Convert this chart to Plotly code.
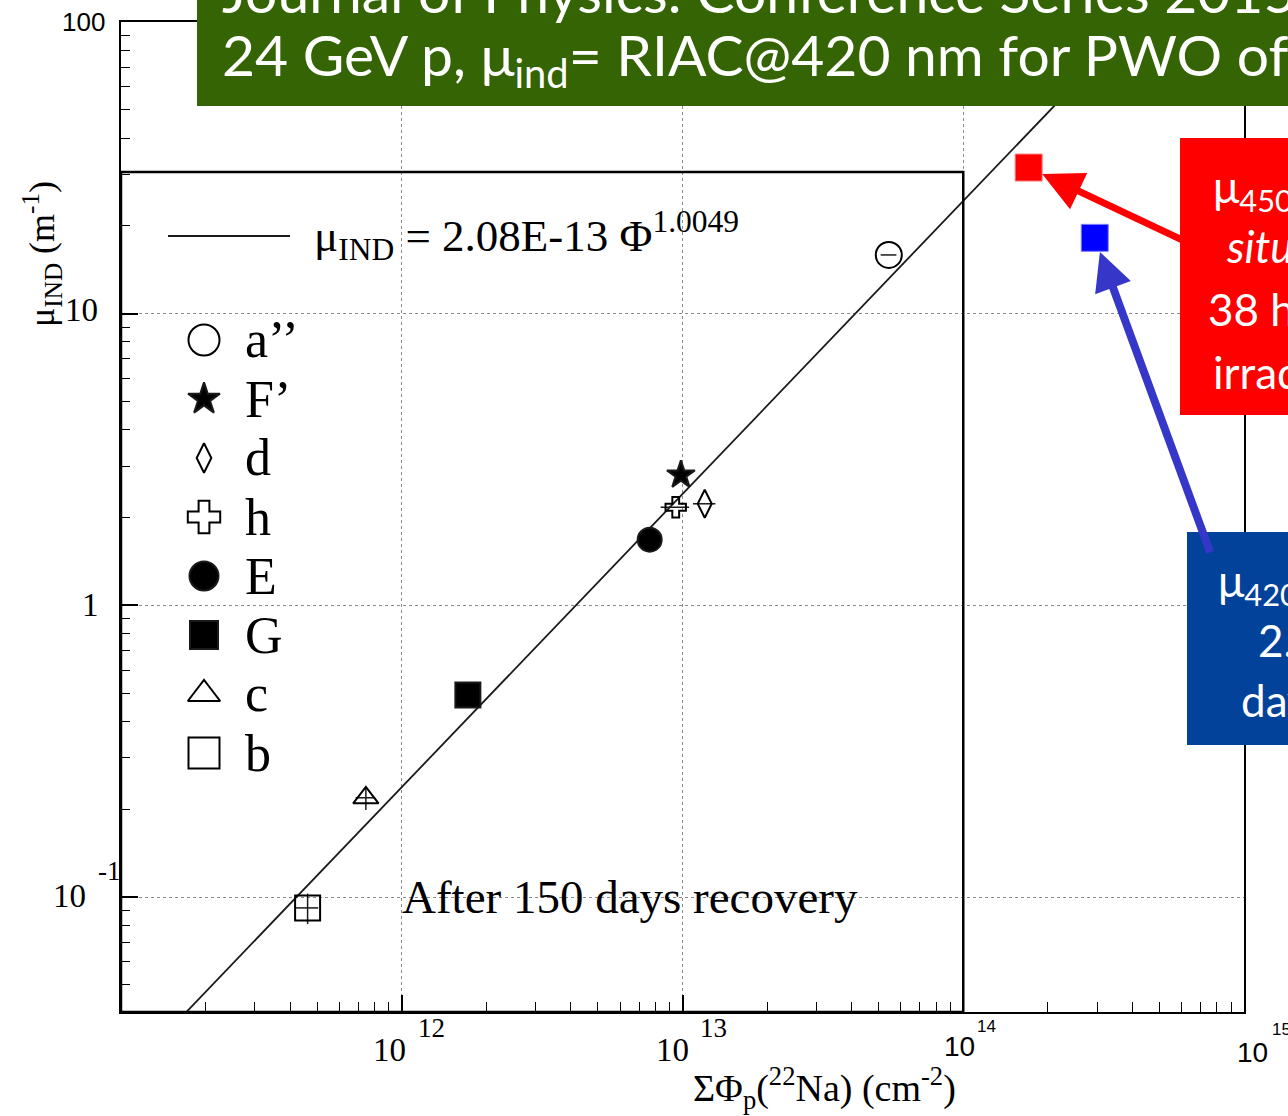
import numpy as np
import plotly.graph_objects as go

# ---------------- data ----------------
samples = ["a’’", "F’", "d", "h", "E", "G", "c", "b"]
fluence = [5.43e13, 9.87e12, 1.20e13, 9.46e12, 7.64e12, 1.72e12, 7.45e11, 4.62e11]   # cm^-2
mu_ind = [15.9, 2.80, 2.23, 2.17, 1.68, 0.493, 0.219, 0.0918]                       # m^-1
fluence_err = [3.5e12, 0, 1.1e12, 1.1e12, 0, 1.7e11, 6.0e10, 4.2e10]
mu_err = [0, 0, 0, 0, 0, 0, 0.02, 0.011]

# power-law fit  mu = A * Phi^k
fit_coef = 2.08e-13
fit_exp = 1.0049

# in-situ measurements (450 nm, 420 nm)
insitu_fluence = [1.71e14, 2.94e14]
insitu_mu = [31.7, 18.2]

x_major = [1e12, 1e13, 1e14]
y_major = [0.1, 1, 10]

# ---------------- layout geometry ----------------
W, H = 1288, 1116
M_L, M_R, M_T, M_B = 121, 44, 22, 104
X_RANGE = (11.0, 15.0)
Y_RANGE = (-1.394, 2.0)


def fx(px):
    return (px - M_L) / (W - M_L - M_R)


def fy(py):
    return (H - M_B - py) / (H - M_T - M_B)


def lx(v):
    return (v - X_RANGE[0]) / (X_RANGE[1] - X_RANGE[0])


def ly(v):
    return (v - Y_RANGE[0]) / (Y_RANGE[1] - Y_RANGE[0])


SERIF = "Liberation Serif, Times New Roman, serif"
SANS_N = "Liberation Sans Narrow, Liberation Sans, Arial, sans-serif"
SLIDE = "Lato, Carlito, Calibri, sans-serif"

x_minor = [m * 10.0 ** e for e in range(11, 15) for m in range(2, 10)]
y_minor = [m * 10.0 ** e for e in range(-2, 2) for m in range(2, 10)
           if Y_RANGE[0] < np.log10(m * 10.0 ** e) < Y_RANGE[1]]

data_symbols = ["circle-open", "star", "diamond-tall-open", "cross-open",
                "circle", "square", "triangle-up-open", "square-open"]
data_sizes = [26, 21, 20, 17, 24, 25, 22, 25]
legend_sizes = [31, 24, 21, 27, 29, 28, 28, 31]

fig = go.Figure()

# fit line
phi = np.logspace(X_RANGE[0], X_RANGE[1], 41)
fig.add_trace(go.Scatter(
    x=phi, y=fit_coef * phi ** fit_exp, mode="lines",
    line=dict(color="#1a1a1a", width=1.8), hoverinfo="skip", showlegend=False))

# sample points
fig.add_trace(go.Scatter(
    x=fluence, y=mu_ind, mode="markers", text=samples, showlegend=False,
    marker=dict(symbol=data_symbols, size=data_sizes, color="black", opacity=1,
                line=dict(color="#1a1a1a", width=2)),
    error_x=dict(type="data", array=fluence_err, width=0, thickness=1.5, color="#1a1a1a"),
    error_y=dict(type="data", array=mu_err, width=0, thickness=1.5, color="#1a1a1a")))

# in-situ points
fig.add_trace(go.Scatter(
    x=insitu_fluence, y=insitu_mu, mode="markers", showlegend=False,
    marker=dict(symbol="square", size=27, color=["#FF0000", "#0000FF"], opacity=1,
                line=dict(color=["#FF8080", "#8080FF"], width=1))))

# legend glyphs (drawn on an overlay frame spanning the plot area)
leg_x = fx(204)
leg_rows = [fy(340 + 59 * i) for i in range(len(samples))]
fig.add_trace(go.Scatter(
    x=[leg_x] * len(samples), y=leg_rows, mode="markers", xaxis="x2", yaxis="y2",
    showlegend=False, hoverinfo="skip",
    marker=dict(symbol=data_symbols, size=legend_sizes, color="black", opacity=1,
                line=dict(color="#1a1a1a", width=2))))
fig.add_trace(go.Scatter(
    x=[fx(168), fx(290)], y=[fy(236), fy(236)], mode="lines", xaxis="x2", yaxis="y2",
    showlegend=False, hoverinfo="skip", line=dict(color="#1a1a1a", width=2)))

axis_common = dict(
    type="log", showline=True, linecolor="black", linewidth=2, mirror=True,
    ticks="inside", ticklen=17, tickwidth=1.6, tickcolor="black",
    showticklabels=False, showgrid=True, gridcolor="#8a8a8a", griddash="dot",
    gridwidth=1.2, zeroline=False)

fig.update_layout(
    width=W, height=H, margin=dict(l=M_L, r=M_R, t=M_T, b=M_B),
    paper_bgcolor="white", plot_bgcolor="white", showlegend=False,
    xaxis=dict(range=list(X_RANGE), tickmode="array", tickvals=x_major,
               minor=dict(tickmode="array", tickvals=x_minor, ticks="inside",
                          ticklen=10, tickwidth=1.4, tickcolor="black", showgrid=False),
               **axis_common),
    yaxis=dict(range=list(Y_RANGE), tickmode="array", tickvals=y_major,
               minor=dict(tickmode="array", tickvals=y_minor, ticks="inside",
                          ticklen=9, tickwidth=1.4, tickcolor="black", showgrid=False),
               **axis_common),
    xaxis2=dict(overlaying="x", range=[0, 1], visible=False, fixedrange=True),
    yaxis2=dict(overlaying="y", range=[0, 1], visible=False, fixedrange=True),
)

shapes = []
# frame of the inset figure
shapes.append(dict(type="rect", xref="paper", yref="paper", x0=lx(11), x1=lx(14),
                   y0=0, y1=ly(1.486), line=dict(color="black", width=2.5),
                   fillcolor="rgba(0,0,0,0)", layer="above"))
# title banner
shapes.append(dict(type="rect", xref="paper", yref="paper", x0=fx(197), x1=fx(1320),
                   y0=fy(106), y1=fy(-20), line=dict(width=0), fillcolor="#346403",
                   layer="above"))
# call-out boxes
shapes.append(dict(type="rect", xref="paper", yref="paper", x0=fx(1180), x1=fx(1320),
                   y0=fy(415), y1=fy(138), line=dict(width=0), fillcolor="#FF0000",
                   layer="above"))
shapes.append(dict(type="rect", xref="paper", yref="paper", x0=fx(1187), x1=fx(1320),
                   y0=fy(745), y1=fy(532), line=dict(width=0), fillcolor="#02429A",
                   layer="above"))

ann = []


def text(t, px, py, size, family=SERIF, color="black", xanchor="center",
         yanchor="middle", **kw):
    ann.append(dict(text=t, xref="paper", yref="paper", x=fx(px), y=fy(py),
                    xanchor=xanchor, yanchor=yanchor, showarrow=False,
                    font=dict(family=family, size=size, color=color), **kw))


# tick labels
text("10", 389, 1050, 33)
text("12", 431, 1028, 27)
text("10", 672, 1050, 33)
text("13", 713, 1028, 27)
text("10", 959, 1046, 28, family=SANS_N)
text("14", 986, 1026, 17, family=SANS_N)
text("10", 1252, 1052, 28, family=SANS_N)
text("15", 1281, 1029, 17, family=SANS_N)
text("100", 107, 22, 26, family=SANS_N, xanchor="right")
text("10", 81, 310, 33)
text("1", 90, 605, 33)
text("10", 69, 896, 33)
text("-1", 109, 871, 27)

# axis titles
text("μ<sub>IND</sub> (m<sup>-1</sup>)", 42, 254, 36, textangle=-90)
text("ΣΦ<sub>p</sub>(<sup>22</sup>Na) (cm<sup>-2</sup>)", 824, 1088, 38)

# legend labels and fit formula
for lbl, yy in zip(samples, leg_rows):
    ann.append(dict(text=lbl, xref="paper", yref="paper", x=fx(243), y=yy,
                    xanchor="left", yanchor="middle", showarrow=False,
                    font=dict(family=SERIF, size=52, color="black")))
text(f"μ<sub>IND</sub> = {fit_coef:.2E} Φ<sup>{fit_exp}</sup>", 312, 236, 45,
     xanchor="left")
text("After 150 days recovery", 400, 897, 47, xanchor="left")

# banner (first line runs off the top edge)
text("Journal of Physics: Conference Series 2015", 220, 27, 57, family=SLIDE,
     color="white", xanchor="left", yanchor="bottom")
text("24 GeV p, μ<sub>ind</sub>= RIAC@420 nm for PWO of different origin", 220, 58, 57,
     family=SLIDE, color="white", xanchor="left")

# call-out texts
text("μ<sub>450</sub> in", 1211, 190, 44, family=SLIDE, color="white", xanchor="left")
text("<i>situ</i> after", 1224, 246, 44, family=SLIDE, color="white", xanchor="left")
text("38 h of", 1206, 309, 44, family=SLIDE, color="white", xanchor="left")
text("irradiation", 1211, 372, 44, family=SLIDE, color="white", xanchor="left")
text("μ<sub>420</sub> after", 1216, 583, 44, family=SLIDE, color="white", xanchor="left")
text("2.5", 1256, 640, 44, family=SLIDE, color="white", xanchor="left")
text("days", 1239, 700, 44, family=SLIDE, color="white", xanchor="left")

# arrows from the call-outs to the in-situ points
arrow_tails = [(157, 74), (116, 316)]
arrow_colors = ["#FF0000", "#3636C8"]
arrow_widths = [7, 8]
arrow_sizes = [1.15, 0.95]
for f, m, (axp, ayp), col, wd, sz in zip(insitu_fluence, insitu_mu, arrow_tails,
                                          arrow_colors, arrow_widths, arrow_sizes):
    ann.append(dict(text="", xref="paper", yref="paper", x=lx(np.log10(f)),
                    y=ly(np.log10(m)), ax=axp, ay=ayp, showarrow=True,
                    arrowhead=2, arrowsize=sz, arrowwidth=wd, arrowcolor=col,
                    standoff=15))

fig.update_layout(shapes=shapes, annotations=ann)
fig.write_html("out.html")
